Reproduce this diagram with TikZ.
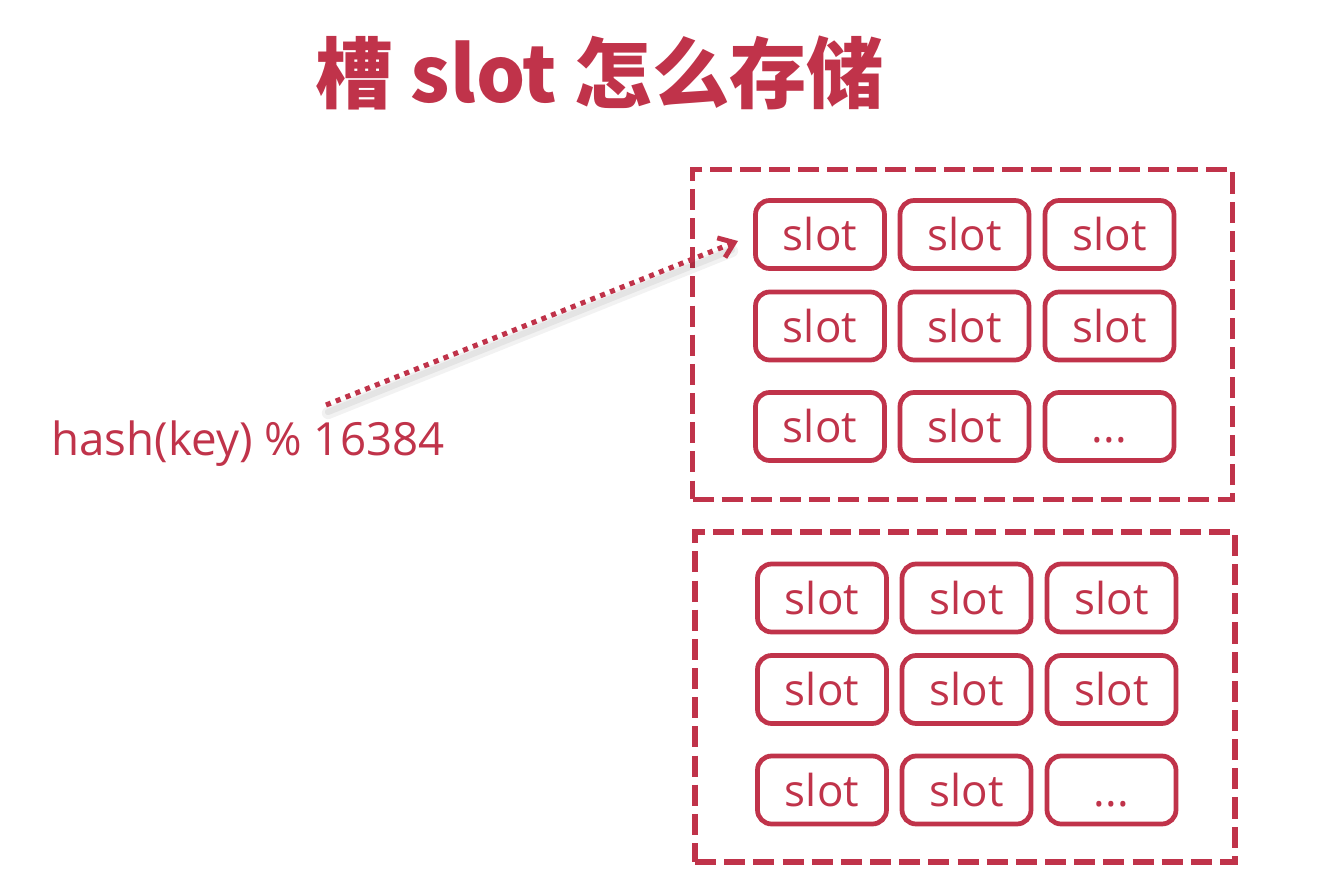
\documentclass[tikz,border=0pt]{standalone}
\usepackage{fontspec}
\setmainfont{Open Sans}
\newfontfamily\cjk{Noto Sans CJK SC}
\usetikzlibrary{arrows.meta}

\definecolor{slotred}{RGB}{192,51,74}

\tikzset{
    slotbox/.style={draw=slotred, line width=2.7pt, rounded corners=8pt,
        minimum width=2.58cm, minimum height=1.36cm, text=slotred,
        font=\fontsize{25}{28}\selectfont, inner sep=0pt},
    groupbox/.style={draw=slotred, line width=3.3pt,
        dash pattern=on 12pt off 4.6pt,
        minimum width=10.8cm, minimum height=6.6cm, inner sep=0pt},
    hashline/.style={slotred, line width=2.9pt,
        dash pattern=on 2.9pt off 3.1pt,
        -{Straight Barb[length=8pt, width=12pt, line width=2.8pt]}}
}

\begin{document}
\begin{tikzpicture}[x=0.02cm, y=-0.02cm]
    \useasboundingbox (0,0) rectangle (1320,882);

    % Title
    \node (title) at (600,73)
        {\cjk\bfseries\color{slotred}\fontsize{44}{50}\selectfont 槽 slot 怎么存储};

    % Two groups of slots
    \node [groupbox] (G1) at (962.5,334.5) {};
    \node [groupbox] (G2) at (965,697) {};

    \foreach \b/\dx/\dy in {1/0/0, 2/2/363.5} {
        \foreach \r/\y in {1/234.5, 2/326, 3/426.5} {
            \foreach \c/\x in {1/820, 2/964.5, 3/1109.5} {
                \ifnum\r\c=33 \def\lbl{...}\else\def\lbl{slot}\fi
                \node [slotbox] (s\b-\r\c) at (\x+\dx,\y+\dy)
                    {\vphantom{slot}\lbl};
            }
        }
    }

    % Hash of the key
    \node [text=slotred, font=\fontsize{26}{30}\selectfont] (hash)
        at (248,444) {hash(key) \% 16384};
    \coordinate (A) at (326,405);
    \coordinate (B) at (738,241);

    % Soft shadow under the arrow
    \draw [black, opacity=0.05, line width=7pt, line cap=round]
        ([shift={(2,8)}]A) -- ([shift={(-6,10)}]B);
    \draw [black, opacity=0.06, line width=3.5pt, line cap=round]
        ([shift={(2,7)}]A) -- ([shift={(-6,9)}]B);
    \draw [hashline] (A) -- (B);
\end{tikzpicture}
\end{document}
